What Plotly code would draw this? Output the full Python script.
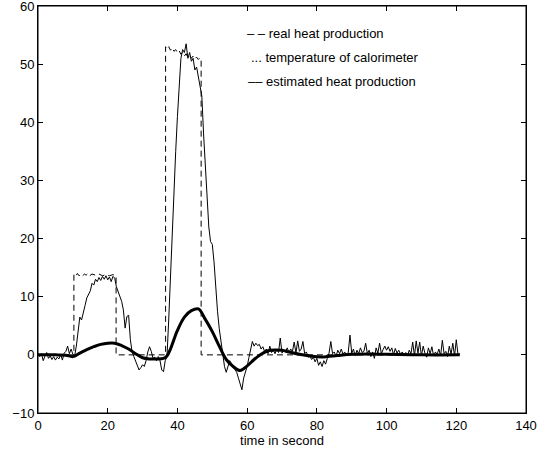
import numpy as np
import plotly.graph_objects as go

# thin noisy trace, sampled every 0.5 s from 0 to 121 s
est_time = np.arange(0, 121.01, 0.5)
est_heat = [
    0.0, -0.3, 0.2, -1.0, -0.2, 0.4, -0.6, -0.2, -0.8, -0.3,      # 0-4.5
    -0.9, -0.4, -0.7, 0.1, -0.9, 0.3, 0.6, 1.5, 0.2, 1.0,         # 5-9.5
    0.1, -0.2, 1.5, 4.5, 6.5, 6.0, 7.5, 8.5, 9.8, 10.5,           # 10-14.5
    11.0, 12.3, 12.0, 13.0, 12.6, 13.3, 12.8, 13.5, 13.0, 13.6,   # 15-19.5
    12.9, 13.4, 12.6, 13.5, 13.2, 11.7, 10.9, 10.0, 9.2, 7.7,     # 20-24.5
    4.6, 6.6, 6.8, 2.6, 0.5, -0.3, -1.2, -2.0, -2.6, -2.2,        # 25-29.5
    -1.7, -2.0, -1.0, 0.5, 1.4, 0.6, -0.6, -0.4, -1.0, -0.3,      # 30-34.5
    -1.0, -2.6, -2.9, -1.0, -0.3, 6.0, 14.0, 21.0, 29.0, 35.0,    # 35-39.5
    41.0, 47.0, 51.0, 52.5, 52.0, 53.5, 51.0, 52.0, 50.5, 51.0,   # 40-44.5
    49.0, 49.5, 48.0, 46.5, 44.5, 38.0, 32.0, 26.5, 22.0, 19.5,   # 45-49.5
    19.0, 16.0, 11.0, 7.5, 4.5, 2.0, 0.3, -2.0, -3.0, -2.0,       # 50-54.5
    -1.0, -1.5, -2.2, -2.5, -3.0, -4.0, -5.0, -6.0, -4.0, -3.0,   # 55-59.5
    -2.0, -0.5, 1.0, 2.3, 1.5, 2.0, 1.6, 1.8, 1.0, 1.4,           # 60-64.5
    0.6, 1.0, 0.2, 1.5, 0.4, 0.8, 0.2, 1.0, 0.4, 2.9,             # 65-69.5
    0.3, 0.8, 0.5, 1.2, 0.4, 1.0, 0.6, 2.2, 0.3, 2.4,             # 70-74.5
    0.6, 1.0, 2.3, 0.2, 0.5, -0.4, -0.2, -0.8, -0.4, -1.2,        # 75-79.5
    -0.6, -1.8, -1.2, -2.0, -1.0, -1.6, -0.6, 0.3, 2.3, 0.2,      # 80-84.5
    0.5, -0.3, 0.8, 0.2, 1.0, 0.1, 0.5, -0.2, 0.4, 3.4,           # 85-89.5
    0.3, 1.0, -0.2, 0.8, 0.2, 1.2, 0.4, 0.6, 2.0, 0.2,            # 90-94.5
    0.8, -0.3, 0.5, -0.6, 1.2, 0.3, 2.0, 0.2, 0.9, 1.5,           # 95-99.5
    0.8, 1.4, 0.6, 1.2, 0.0, 1.1, 0.3, 0.8, 0.1, 0.5,             # 100-104.5
    0.0, 0.4, -0.2, 0.8, 0.2, 2.2, -0.2, 2.4, 0.3, 2.2,           # 105-109.5
    -0.2, 1.5, 0.3, -0.4, 1.2, 0.2, 1.4, -0.2, 0.5, 0.1,          # 110-114.5
    1.0, -0.2, 2.5, 0.2, 0.6, -0.3, 1.5, 0.1, 2.0, -0.2,          # 115-119.5
    2.6, 0.0, 0.2,                                                # 120-121
]

# dashed step trace
real_time = [0, 10.3, 10.3, 10.8, 11.3, 11.8, 12.3, 12.8, 13.3, 13.8, 14.3, 14.8,
             15.5, 16.5, 17.5, 18.5, 19.5, 20.5, 21.5, 22.4, 22.4, 36.6,
             36.6, 37, 37.5, 38, 38.5, 39, 39.5, 40, 40.5, 41, 41.5, 42, 42.5,
             43, 43.5, 44, 44.5, 45, 45.5, 46, 46.5, 46.8, 46.8, 121]
real_heat = [0, 0, 13.8, 13.5, 14.0, 13.6, 13.9, 13.6, 13.9, 13.7, 14.0, 13.6,
             13.9, 13.7, 13.9, 13.6, 13.8, 13.6, 13.8, 13.6, 0, 0,
             53.0, 52.6, 53.0, 52.4, 52.8, 52.2, 52.5, 52.0, 52.3, 51.7, 52.0, 51.4, 51.8,
             51.2, 51.5, 51.0, 51.4, 50.9, 51.2, 50.8, 51.1, 50.8, 0, 0]

# thick smooth trace
temp_time = [0, 5, 8, 10, 12, 14, 16, 18, 20, 22, 24, 26, 28, 30, 32, 34, 36, 37,
             38, 40, 42, 44, 46, 48, 50, 52, 54, 56, 58, 60, 62, 64, 66, 68, 70,
             72, 75, 78, 82, 86, 90, 95, 100, 110, 121]
temp_val = [0.0, 0.0, -0.05, -0.3, 0.3, 0.9, 1.4, 1.8, 2.0, 2.0, 1.6, 1.0, 0.2,
            -0.5, -0.7, -0.7, -0.6, -0.2, 1.0, 4.2, 6.5, 7.6, 7.9, 6.1, 4.0, 1.5,
            -0.8, -2.0, -2.7, -1.9, -0.8, 0.1, 0.7, 0.85, 0.8, 0.5, 0.1, -0.2,
            -0.35, -0.1, 0.1, 0.15, 0.1, 0.0, 0.0]

legend_lines = ["\u2013 \u2013 real heat production",
                "... temperature of calorimeter",
                "\u2013\u2013 estimated heat production"]
legend_x = [59.3, 60.4, 59.8]
legend_y = [55.2, 51.2, 47.1]

FONT = "Arial, Liberation Sans, Helvetica, sans-serif"

fig = go.Figure()
fig.add_trace(go.Scatter(x=real_time, y=real_heat, mode="lines",
                         line=dict(color="black", width=1, dash="6px,4px")))
fig.add_trace(go.Scatter(x=est_time, y=est_heat, mode="lines",
                         line=dict(color="black", width=1)))
fig.add_trace(go.Scatter(x=temp_time, y=temp_val, mode="lines",
                         line=dict(color="black", width=3, shape="spline", smoothing=1.0)))

for txt, lx, ly in zip(legend_lines, legend_x, legend_y):
    fig.add_annotation(x=lx, y=ly, text=txt, showarrow=False,
                       xanchor="left", yanchor="middle",
                       font=dict(size=13, color="black", family=FONT))

axis_style = dict(showgrid=False, zeroline=False, showline=True, linecolor="black",
                  linewidth=1, mirror="ticks", ticks="inside", ticklen=5,
                  tickcolor="black", automargin=False, ticklabeloverflow="allow",
                  tickfont=dict(size=13, color="black", family=FONT))

fig.update_xaxes(range=[0, 140], dtick=20, tick0=0,
                 title=dict(text="time in second", standoff=0,
                            font=dict(size=13, color="black", family=FONT)),
                 **axis_style)
fig.update_yaxes(range=[-10, 60], dtick=10, tick0=0, **axis_style)

# axes box
fig.add_shape(type="rect", xref="paper", yref="paper", x0=0, y0=0, x1=1, y1=1,
              line=dict(color="black", width=1), layer="above")

fig.update_layout(
    width=537, height=451,
    margin=dict(l=38, r=11, t=6, b=38),
    plot_bgcolor="white", paper_bgcolor="white",
    showlegend=False,
    font=dict(family=FONT, color="black"),
)

# drop the default page margin so the figure sits at the window's corner
fig.write_html("out.html", config={"displayModeBar": False},
               post_script="document.body.style.margin='0';")
